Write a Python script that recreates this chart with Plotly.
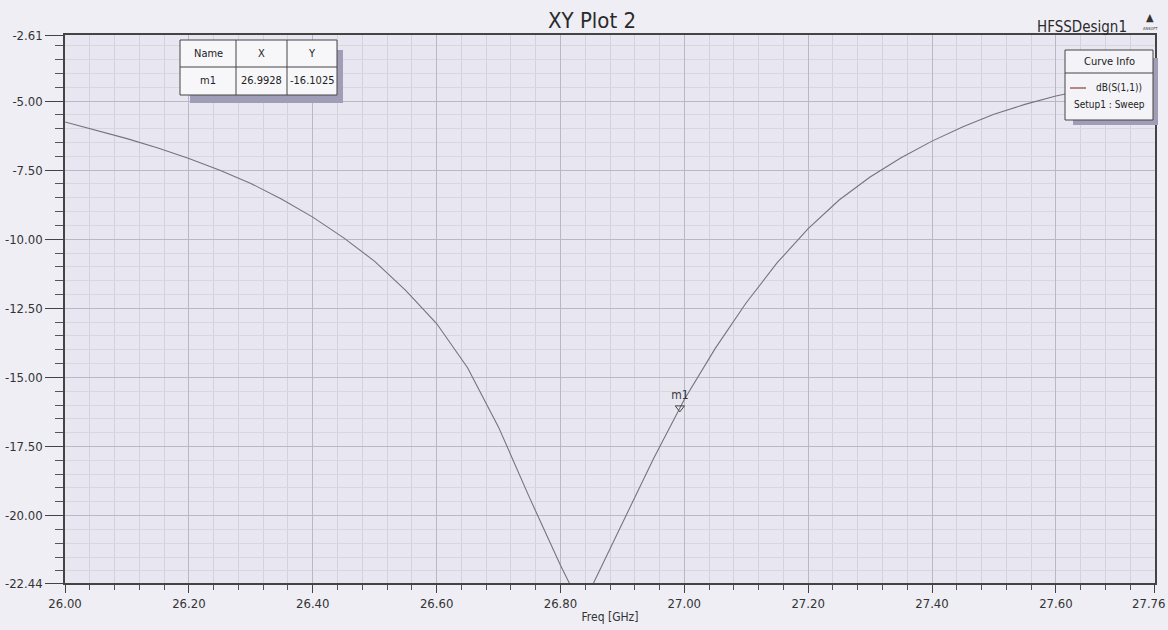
import plotly.graph_objects as go

# S11 sweep (frequency in GHz, return loss in dB)
freq = [26.00, 26.05, 26.10, 26.15, 26.20, 26.25, 26.30, 26.35, 26.40, 26.45,
        26.50, 26.55, 26.60, 26.65, 26.70, 26.75, 26.80, 26.82, 26.835, 26.85,
        26.90, 26.95, 27.00, 27.05, 27.10, 27.15, 27.20, 27.25, 27.30, 27.35,
        27.40, 27.45, 27.50, 27.55, 27.60, 27.65, 27.70, 27.76]
s11_db = [-5.76, -6.05, -6.36, -6.70, -7.08, -7.50, -7.98, -8.55, -9.20, -9.95,
          -10.80, -11.85, -13.05, -14.65, -16.80, -19.35, -21.80, -22.70, -23.30, -22.60,
          -20.30, -17.95, -15.80, -13.95, -12.30, -10.85, -9.62, -8.58, -7.75, -7.05,
          -6.45, -5.93, -5.48, -5.12, -4.82, -4.58, -4.38, -4.18]

# marker m1
marker_name = ["m1"]
marker_x = [26.9928]
marker_y = [-16.1025]

# axis ticks
x_ticks = [26.00, 26.20, 26.40, 26.60, 26.80, 27.00, 27.20, 27.40, 27.60, 27.76]
y_ticks = [-2.61, -5.00, -7.50, -10.00, -12.50, -15.00, -17.50, -20.00, -22.44]

FONT = "Liberation Sans Narrow, DejaVu Sans Condensed, Roboto, Liberation Sans, Arial"
W, H = 1168, 630
L, R, T, B = 65, 1155, 35, 583


def fx(px):
    return (px - L) / (R - L)


def fy(py):
    return (B - py) / (B - T)


def label(px, py, text, size=11, color="#222"):
    return dict(x=fx(px), y=fy(py), xref="paper", yref="paper",
                xanchor="center", yanchor="middle", text=text, showarrow=False,
                font=dict(family=FONT, size=size, color=color))


fig = go.Figure()
fig.add_trace(go.Scatter(x=freq, y=s11_db, mode="lines",
                         line=dict(color="#75737d", width=1.1),
                         showlegend=False, hoverinfo="x+y"))
fig.add_trace(go.Scatter(x=marker_x, y=marker_y, mode="markers+text",
                         text=marker_name, textposition="top center",
                         textfont=dict(family=FONT, size=12, color="#333"),
                         marker=dict(symbol="triangle-down-open", size=8,
                                     color="#444", line=dict(width=1)),
                         showlegend=False))

shapes = []
annotations = []

# marker table with drop shadow
tx0, tx1, ty0, ty1, tmid = 180, 337, 40, 95, 67
cols = [180, 236, 287, 337]
shapes.append(dict(type="rect", xref="paper", yref="paper",
                   x0=fx(tx0 + 10), x1=fx(tx1 + 6), y0=fy(ty1 + 8), y1=fy(ty0 + 10),
                   fillcolor="#a09eb6", line=dict(width=0), layer="above"))
shapes.append(dict(type="rect", xref="paper", yref="paper",
                   x0=fx(tx0), x1=fx(tx1), y0=fy(ty1), y1=fy(ty0),
                   fillcolor="#f7f7fa", line=dict(color="#444", width=1), layer="above"))
shapes.append(dict(type="line", xref="paper", yref="paper",
                   x0=fx(tx0), x1=fx(tx1), y0=fy(tmid), y1=fy(tmid),
                   line=dict(color="#444", width=1), layer="above"))
for c in cols[1:-1]:
    shapes.append(dict(type="line", xref="paper", yref="paper",
                       x0=fx(c), x1=fx(c), y0=fy(ty0), y1=fy(ty1),
                       line=dict(color="#444", width=1), layer="above"))
header = ["Name", "X", "Y"]
row = [marker_name[0], f"{marker_x[0]:.4f}", f"{marker_y[0]:.4f}"]
for i in range(3):
    cx = (cols[i] + cols[i + 1]) / 2
    annotations.append(label(cx, (ty0 + tmid) / 2, header[i]))
    annotations.append(label(cx, (tmid + ty1) / 2, row[i]))

# curve info box with drop shadow
lx0, lx1, ly0, ly1, lmid = 1065, 1153, 50, 120, 73
shapes.append(dict(type="rect", xref="paper", yref="paper",
                   x0=fx(lx0 + 8), x1=fx(lx1 + 5), y0=fy(ly1 + 5), y1=fy(ly0 + 8),
                   fillcolor="#a09eb6", line=dict(width=0), layer="above"))
shapes.append(dict(type="rect", xref="paper", yref="paper",
                   x0=fx(lx0), x1=fx(lx1), y0=fy(ly1), y1=fy(ly0),
                   fillcolor="#f4f3f8", line=dict(color="#444", width=1), layer="above"))
shapes.append(dict(type="line", xref="paper", yref="paper",
                   x0=fx(lx0), x1=fx(lx1), y0=fy(lmid), y1=fy(lmid),
                   line=dict(color="#444", width=1), layer="above"))
shapes.append(dict(type="line", xref="paper", yref="paper",
                   x0=fx(1070), x1=fx(1086), y0=fy(88), y1=fy(88),
                   line=dict(color="#a0625c", width=1.5), layer="above"))
annotations.append(label(1109, 62, "Curve Info"))
annotations.append(label(1119, 88, "dB(S(1,1))", size=10))
annotations.append(label(1109, 104, "Setup1 : Sweep", size=10))

# title, design name and logo
annotations.append(label(592, 21, "XY Plot 2", size=22, color="#2a2a2a"))
annotations.append(label(1082, 27, "HFSSDesign1", size=15, color="#2a2a2a"))
annotations.append(label(1150, 17, "▲", size=11, color="#333"))
annotations.append(label(1150, 29, "ANSOFT", size=4, color="#333"))

# the last x tick label sits at the right edge; draw it nudged inwards
x_ticktext = [f"{v:.2f}" for v in x_ticks]
annotations.append(dict(x=x_ticks[-1], y=fy(603), xref="x", yref="paper",
                        xanchor="center", yanchor="middle", xshift=-6,
                        text=x_ticktext[-1], showarrow=False,
                        font=dict(family=FONT, size=13, color="#333")))
x_ticktext[-1] = ""

fig.update_layout(
    width=W, height=H,
    margin=dict(l=L, r=W - R, t=T, b=H - B),
    paper_bgcolor="#efeef5",
    plot_bgcolor="#e8e7f1",
    font=dict(family=FONT, size=13, color="#333"),
    shapes=shapes,
    annotations=annotations,
    showlegend=False,
)

fig.update_xaxes(
    range=[25.9999, 27.7601],
    automargin=False,
    tickmode="array", tickvals=x_ticks, ticktext=x_ticktext,
    ticks="outside", ticklen=8, tickcolor="#444",
    showgrid=True, gridcolor="#b9b8c4", gridwidth=1,
    minor=dict(tickmode="linear", tick0=26.0, dtick=0.04, ticks="outside",
               ticklen=5, tickcolor="#555", showgrid=True, gridcolor="#d3d2dc"),
    showline=True, linecolor="#444", linewidth=1.5, mirror=True,
    zeroline=False,
    title=dict(text="Freq [GHz]", standoff=2,
               font=dict(family=FONT, size=12, color="#333")),
    tickfont=dict(family=FONT, size=13, color="#333"),
)
fig.update_yaxes(
    range=[-22.4401, -2.6099],
    automargin=False,
    tickmode="array", tickvals=y_ticks, ticktext=[f"{v:.2f}" for v in y_ticks],
    ticks="outside", ticklen=18, tickcolor="#444",
    ticklabeloverflow="allow",
    showgrid=True, gridcolor="#b9b8c4", gridwidth=1,
    minor=dict(tickmode="linear", tick0=0, dtick=0.5, ticks="outside",
               ticklen=8, tickcolor="#555", showgrid=True, gridcolor="#d8d7e0"),
    showline=True, linecolor="#444", linewidth=1.5, mirror=True,
    zeroline=False,
    tickfont=dict(family=FONT, size=13, color="#333"),
)

fig.write_html("out.html")
